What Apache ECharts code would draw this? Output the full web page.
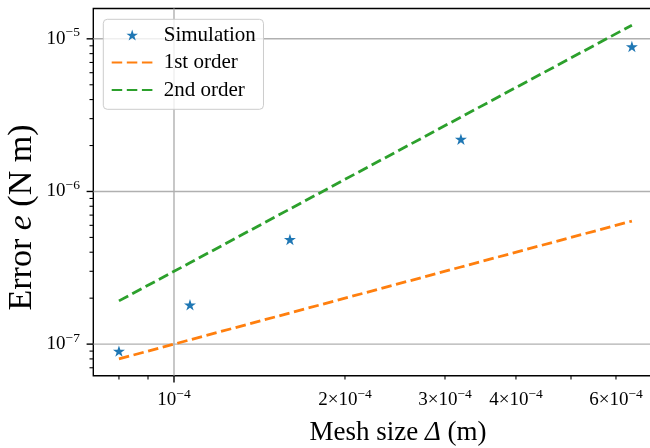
<!DOCTYPE html>
<html><head><meta charset="utf-8">
<script src="https://cdn.jsdelivr.net/npm/echarts@6/dist/echarts.min.js"></script>
<style>html,body{margin:0;padding:0;overflow:hidden;background:#fff}#c{width:660px;height:448px}</style>
</head><body><div id="c"></div>
<script>
// ---- data ----
const meshSize    = [8.0e-5, 1.067e-4, 1.6e-4, 3.2e-4, 6.4e-4];
const simError    = [9.0e-8, 1.81e-7, 4.85e-7, 2.2e-6, 8.9e-6];
const firstOrder  = [8.0e-8, 1.067e-7, 1.6e-7, 3.2e-7, 6.4e-7];
const secondOrder = [1.92e-7, 3.41e-7, 7.68e-7, 3.07e-6, 1.229e-5];
const seriesNames = ['Simulation', '1st order', '2nd order'];

const xMin = 7.21e-5, xMax = 7.1e-4, yMin = 6.21e-8, yMax = 1.58e-5;
const xMajorTicks = [1e-4];
const xMinorTicks = [8e-5, 9e-5, 2e-4, 3e-4, 4e-4, 5e-4, 6e-4, 7e-4];
const xTickLabelValues = [1e-4, 2e-4, 3e-4, 4e-4, 6e-4];
const xTickLabelMantissa = ['', '2×', '3×', '4×', '6×'];
const xTickLabelExp = ['−4', '−4', '−4', '−4', '−4'];
const yMajorTicks = [1e-7, 1e-6, 1e-5];
const yMinorTicks = [7e-8, 8e-8, 9e-8, 2e-7, 3e-7, 4e-7, 5e-7, 6e-7, 7e-7, 8e-7, 9e-7,
                     2e-6, 3e-6, 4e-6, 5e-6, 6e-6, 7e-6, 8e-6, 9e-6];
const yTickLabelExp = ['−7', '−6', '−5'];
const xTitleParts = [['Mesh size ', false], ['Δ', true], [' (m)', false]];
const yTitleParts = [['Error ', false], ['e', true], [' (N m)', false]];

// ---- style ----
const FF = '"Liberation Serif", "Times New Roman", serif';
const STAR = 'path://M100,0 L122.45,69.1 L195.11,69.1 L136.33,111.8 L158.78,180.9 L100,138.2 L41.22,180.9 L63.67,111.8 L4.89,69.1 L77.55,69.1 Z';
const DASH = [10.5, 4.6];

const chart = echarts.init(document.getElementById('c'), null, {renderer: 'canvas'});
const option = {
  animation: false,
  backgroundColor: '#ffffff',
  grid: {left: 93.3, top: 8.5, width: 564.2, height: 367.2, show: true,
         borderColor: '#000', borderWidth: 1.4, backgroundColor: 'transparent'},
  xAxis: {type: 'log', logBase: 10, min: xMin, max: xMax,
          axisLine: {show: false}, axisTick: {show: false}, axisLabel: {show: false},
          splitLine: {show: false}, minorTick: {show: false}},
  yAxis: {type: 'log', logBase: 10, min: yMin, max: yMax,
          axisLine: {show: false}, axisTick: {show: false}, axisLabel: {show: false},
          splitLine: {show: false}, minorTick: {show: false}},
  legend: {
    data: [
      {name: seriesNames[0]},
      {name: seriesNames[1], itemStyle: {opacity: 0}},
      {name: seriesNames[2], itemStyle: {opacity: 0}}
    ],
    orient: 'vertical', left: 103.3, top: 19.3,
    padding: [5.2, 7.6, 8.8, 7.4], itemWidth: 41, itemHeight: 11, itemGap: 6.5,
    backgroundColor: 'rgba(255,255,255,0.8)', borderColor: '#cccccc', borderWidth: 1, borderRadius: 4,
    textStyle: {fontFamily: FF, fontSize: 21, color: '#000', lineHeight: 21, padding: [0, 0, 0, 6]},
    selectedMode: false
  },
  series: [
    {name: seriesNames[0], type: 'scatter', data: meshSize.map((x, i) => [x, simError[i]]),
     symbol: STAR, symbolSize: 12, symbolKeepAspect: true,
     itemStyle: {color: '#1f77b4', opacity: 1}},
    {name: seriesNames[1], type: 'line', data: meshSize.map((x, i) => [x, firstOrder[i]]),
     symbol: 'none', showSymbol: false, itemStyle: {color: '#ff7f0e'},
     lineStyle: {color: '#ff7f0e', width: 2.8, type: DASH}},
    {name: seriesNames[2], type: 'line', data: meshSize.map((x, i) => [x, secondOrder[i]]),
     symbol: 'none', showSymbol: false, itemStyle: {color: '#2ca02c'},
     lineStyle: {color: '#2ca02c', width: 2.8, type: DASH}}
  ]
};
chart.setOption(option);

// ---- axes decorations via the chart's own scales ----
const P = (x, y) => chart.convertToPixel({gridIndex: 0}, [x, y]);
const [L, B] = P(xMin, yMin);
const [R, T] = P(xMax, yMax);
const mctx = document.createElement('canvas').getContext('2d');
const fnt = (size, italic) => (italic ? 'italic ' : '') + size + 'px ' + FF;
const tw = (t, f) => { mctx.font = f; return mctx.measureText(t).width; };

const g = [];
const line = (x1, y1, x2, y2, stroke, w, z) => g.push({type: 'line', silent: true, z: z,
  shape: {x1, y1, x2, y2}, style: {stroke, lineWidth: w}});
function textRun(pieces, ax, ay, align, rotation) {
  const widths = pieces.map(p => tw(p.t, p.f));
  const total = widths.reduce((a, b) => a + b, 0);
  let cur = align === 'center' ? -total / 2 : (align === 'right' ? -total : 0);
  const children = pieces.map((p, i) => {
    const el = {type: 'text', x: cur, y: p.dy || 0, silent: true,
      style: {text: p.t, font: p.f, fill: '#000', align: 'left', textAlign: 'left',
              verticalAlign: 'middle', textVerticalAlign: 'middle'}};
    cur += widths[i];
    return el;
  });
  g.push({type: 'group', x: ax, y: ay, rotation: rotation || 0, z: 5, children});
}

// grid lines
xMajorTicks.forEach(v => { const px = P(v, yMin)[0]; line(px, T, px, B, '#b0b0b0', 1.4, 1); });
yMajorTicks.forEach(v => { const py = P(xMin, v)[1]; line(L, py, R, py, '#b0b0b0', 1.4, 1); });
// ticks
xMajorTicks.forEach(v => { const px = P(v, yMin)[0]; line(px, B, px, B + 6.7, '#000', 1.4, 5); });
xMinorTicks.forEach(v => { const px = P(v, yMin)[0]; line(px, B, px, B + 3.8, '#000', 1.1, 5); });
yMajorTicks.forEach(v => { const py = P(xMin, v)[1]; line(L, py, L - 6.7, py, '#000', 1.4, 5); });
yMinorTicks.forEach(v => { const py = P(xMin, v)[1]; line(L, py, L - 3.8, py, '#000', 1.1, 5); });
// tick labels
const TF = fnt(19), SF = fnt(13.5);
xTickLabelValues.forEach((v, i) => {
  const px = P(v, yMin)[0];
  textRun([{t: xTickLabelMantissa[i] + '10', f: TF}, {t: xTickLabelExp[i], f: SF, dy: -6}],
          px, B + 24.5, 'center');
});
yMajorTicks.forEach((v, i) => {
  const py = P(xMin, v)[1];
  textRun([{t: '10', f: TF}, {t: yTickLabelExp[i], f: SF, dy: -6}], L - 13.4, py, 'right');
});
// axis titles
textRun(xTitleParts.map(p => ({t: p[0], f: fnt(27, p[1])})), 398, 433, 'center');
textRun(yTitleParts.map(p => ({t: p[0], f: fnt(34, p[1])})), 22.3, 217.5, 'center', Math.PI / 2);

chart.setOption({graphic: {elements: g}});
</script></body></html>
